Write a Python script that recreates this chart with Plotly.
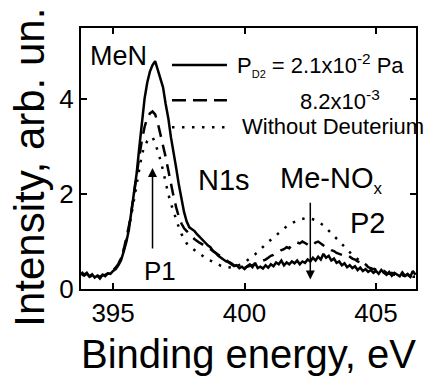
import plotly.graph_objects as go

# Binding energy grid (eV)
energy = [
    393.8, 393.9, 394.0, 394.1, 394.2, 394.3, 394.4, 394.5, 394.6, 394.7,
    394.8, 394.9, 395.0, 395.1, 395.2, 395.3, 395.4, 395.5, 395.6, 395.7,
    395.8, 395.9, 396.0, 396.1, 396.2, 396.3, 396.4, 396.5, 396.6, 396.7,
    396.8, 396.9, 397.0, 397.1, 397.2, 397.3, 397.4, 397.5, 397.6, 397.7,
    397.8, 397.9, 398.0, 398.1, 398.2, 398.3, 398.4, 398.5, 398.6, 398.7,
    398.8, 398.9, 399.0, 399.1, 399.2, 399.3, 399.4, 399.5, 399.6, 399.7,
    399.8, 399.9, 400.0, 400.1, 400.2, 400.3, 400.4, 400.5, 400.6, 400.7,
    400.8, 400.9, 401.0, 401.1, 401.2, 401.3, 401.4, 401.5, 401.6, 401.7,
    401.8, 401.9, 402.0, 402.1, 402.2, 402.3, 402.4, 402.5, 402.6, 402.7,
    402.8, 402.9, 403.0, 403.1, 403.2, 403.3, 403.4, 403.5, 403.6, 403.7,
    403.8, 403.9, 404.0, 404.1, 404.2, 404.3, 404.4, 404.5, 404.6, 404.7,
    404.8, 404.9, 405.0, 405.1, 405.2, 405.3, 405.4, 405.5, 405.6, 405.7,
    405.8, 405.9, 406.0, 406.1, 406.2, 406.3, 406.4, 406.5,
]

# P_D2 = 2.1x10^-2 Pa (solid)
int_high = [
    0.36, 0.30, 0.34, 0.26, 0.31, 0.24, 0.28, 0.22, 0.30, 0.27,
    0.33, 0.32, 0.38, 0.42, 0.50, 0.60, 0.78, 0.98, 1.25, 1.62,
    2.00, 2.45, 3.00, 3.55, 4.02, 4.35, 4.58, 4.72, 4.80, 4.62,
    4.45, 4.25, 3.90, 3.60, 3.20, 2.90, 2.55, 2.20, 1.90, 1.62,
    1.42, 1.30, 1.26, 1.22, 1.15, 1.10, 1.04, 0.98, 0.92, 0.88,
    0.80, 0.76, 0.70, 0.66, 0.62, 0.58, 0.56, 0.52, 0.48, 0.50,
    0.44, 0.47, 0.42, 0.48, 0.52, 0.46, 0.55, 0.44, 0.47, 0.43,
    0.50, 0.45, 0.52, 0.48, 0.56, 0.52, 0.60, 0.50, 0.56, 0.52,
    0.58, 0.54, 0.60, 0.52, 0.58, 0.55, 0.62, 0.58, 0.66, 0.60,
    0.68, 0.62, 0.74, 0.66, 0.70, 0.60, 0.64, 0.55, 0.58, 0.50,
    0.54, 0.46, 0.50, 0.44, 0.48, 0.40, 0.45, 0.38, 0.42, 0.36,
    0.40, 0.34, 0.38, 0.32, 0.40, 0.34, 0.30, 0.36, 0.28, 0.34,
    0.30, 0.27, 0.35, 0.28, 0.32, 0.26, 0.38, 0.30,
]

# 8.2x10^-3 Pa (dashed)
int_mid = [
    0.34, 0.28, 0.32, 0.27, 0.30, 0.26, 0.29, 0.25, 0.30, 0.29,
    0.34, 0.35, 0.40, 0.45, 0.53, 0.65, 0.82, 1.04, 1.32, 1.65,
    2.00, 2.40, 2.80, 3.15, 3.42, 3.60, 3.70, 3.74, 3.68, 3.50,
    3.28, 3.05, 2.78, 2.50, 2.20, 1.95, 1.72, 1.52, 1.38, 1.28,
    1.22, 1.15, 1.10, 1.05, 1.00, 0.97, 0.94, 0.90, 0.86, 0.84,
    0.80, 0.76, 0.72, 0.68, 0.64, 0.60, 0.57, 0.54, 0.50, 0.49,
    0.47, 0.46, 0.45, 0.47, 0.48, 0.50, 0.52, 0.55, 0.56, 0.60,
    0.62, 0.66, 0.70, 0.72, 0.76, 0.78, 0.82, 0.84, 0.88, 0.86,
    0.92, 0.95, 0.98, 0.96, 1.00, 0.97, 0.94, 0.90, 0.92, 0.98,
    1.00, 0.96, 0.92, 0.88, 0.86, 0.82, 0.80, 0.76, 0.74, 0.72,
    0.70, 0.72, 0.68, 0.64, 0.62, 0.58, 0.56, 0.50, 0.52, 0.46,
    0.44, 0.42, 0.40, 0.38, 0.36, 0.38, 0.34, 0.32, 0.34, 0.30,
    0.32, 0.28, 0.30, 0.27, 0.30, 0.26, 0.28, 0.26,
]

# Without deuterium (dotted)
int_none = [
    0.32, 0.27, 0.30, 0.26, 0.28, 0.25, 0.28, 0.24, 0.28, 0.29,
    0.32, 0.34, 0.38, 0.44, 0.52, 0.64, 0.80, 1.00, 1.26, 1.58,
    1.92, 2.30, 2.62, 2.85, 3.00, 3.12, 3.18, 3.20, 3.08, 2.92,
    2.72, 2.50, 2.22, 2.00, 1.80, 1.62, 1.45, 1.30, 1.16, 1.05,
    0.96, 0.90, 0.86, 0.82, 0.78, 0.74, 0.70, 0.66, 0.62, 0.60,
    0.57, 0.54, 0.51, 0.49, 0.47, 0.46, 0.45, 0.45, 0.46, 0.48,
    0.50, 0.53, 0.56, 0.60, 0.64, 0.68, 0.73, 0.78, 0.84, 0.89,
    0.94, 0.99, 1.04, 1.09, 1.14, 1.19, 1.24, 1.28, 1.32, 1.36,
    1.39, 1.42, 1.44, 1.46, 1.48, 1.49, 1.50, 1.49, 1.47, 1.45,
    1.42, 1.38, 1.34, 1.29, 1.24, 1.18, 1.12, 1.06, 1.00, 0.94,
    0.88, 0.82, 0.77, 0.72, 0.67, 0.63, 0.59, 0.55, 0.51, 0.48,
    0.45, 0.43, 0.40, 0.38, 0.36, 0.35, 0.33, 0.32, 0.31, 0.30,
    0.29, 0.29, 0.28, 0.28, 0.27, 0.27, 0.26, 0.26,
]

x_ticks = [395, 400, 405]
y_ticks = [0, 2, 4]

FONT = "'Liberation Sans', Arial, sans-serif"
BLACK = "#000000"
LW = 2.5
DASH = "12px,8px"
DOT = "2.5px,7.5px"

fig = go.Figure()
fig.add_trace(go.Scatter(x=energy, y=int_high, mode="lines",
                         line=dict(color=BLACK, width=LW), showlegend=False))
fig.add_trace(go.Scatter(x=energy, y=int_mid, mode="lines",
                         line=dict(color=BLACK, width=LW, dash=DASH), showlegend=False))
fig.add_trace(go.Scatter(x=energy, y=int_none, mode="lines",
                         line=dict(color=BLACK, width=LW, dash=DOT), showlegend=False))

# hand-drawn legend samples
leg_x0, leg_x1 = 397.24, 399.33
for yv, d in [(4.72, "solid"), (3.98, "14px,7px"), (3.41, DOT)]:
    fig.add_shape(type="line", xref="x", yref="y", x0=leg_x0, x1=leg_x1, y0=yv, y1=yv,
                  line=dict(color=BLACK, width=LW, dash=d))

def txt(x, y, s, size, anchor="left"):
    fig.add_annotation(x=x, y=y, xref="x", yref="y", text=s, showarrow=False,
                       xanchor=anchor, yanchor="middle",
                       font=dict(family=FONT, size=size, color=BLACK))

txt(399.64, 4.72, "P<sub><span style='font-size:11px'>D2</span></sub> = 2.1x10<sup>-2</sup> Pa", 22)
txt(402.03, 3.98, "8.2x10<sup>-3</sup>", 22)
txt(399.83, 3.43, "Without Deuterium", 22)
txt(394.05, 4.9, "MeN", 27)
txt(398.16, 2.29, "N1s", 29)
txt(401.27, 2.30, "Me-NO<sub><span style='font-size:17px'>x</span></sub>", 29)
txt(403.94, 1.39, "P2", 29)
txt(396.1, 0.38, "P1", 26)

# arrows
fig.add_annotation(x=396.5, y=2.55, ax=396.5, ay=0.82, xref="x", yref="y", axref="x", ayref="y",
                   text="", showarrow=True, arrowhead=2, arrowsize=1.2, arrowwidth=1.5,
                   arrowcolor=BLACK)
fig.add_annotation(x=402.5, y=0.2, ax=402.5, ay=1.85, xref="x", yref="y", axref="x", ayref="y",
                   text="", showarrow=True, arrowhead=2, arrowsize=1.2, arrowwidth=1.5,
                   arrowcolor=BLACK)

# y-axis title placed as rotated annotation
fig.add_annotation(x=-0.152, y=0.465, xref="paper", yref="paper", text="Intensity, arb. un.",
                   textangle=-90, showarrow=False, xanchor="center", yanchor="middle",
                   font=dict(family=FONT, size=42, color=BLACK))

axis_common = dict(showline=True, linecolor=BLACK, linewidth=2, mirror="ticks",
                   ticks="inside", ticklen=6, tickwidth=2, tickcolor=BLACK,
                   showgrid=False, zeroline=False, automargin=False,
                   tickfont=dict(family=FONT, size=26, color=BLACK))

fig.update_xaxes(range=[393.78, 406.52], tickvals=x_ticks,
                 title=dict(text="Binding energy, eV", font=dict(family=FONT, size=40, color=BLACK),
                            standoff=13),
                 **axis_common)
fig.update_yaxes(range=[0, 5.5], tickvals=y_ticks, **axis_common)

fig.update_layout(width=424, height=379,
                  margin=dict(l=81, r=8, t=28, b=90, autoexpand=False),
                  plot_bgcolor="white", paper_bgcolor="white",
                  showlegend=False)

fig.write_html("out.html", config={"displayModeBar": False},
               post_script="document.body.style.margin='0';document.body.style.overflow='hidden';")
